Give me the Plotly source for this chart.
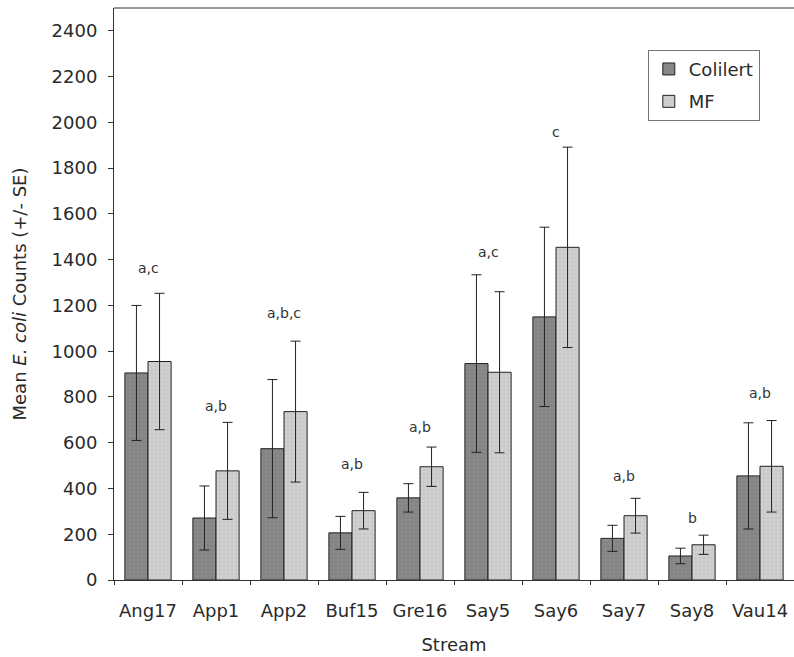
import plotly.graph_objects as go

streams = ["Ang17", "App1", "App2", "Buf15", "Gre16", "Say5", "Say6", "Say7", "Say8", "Vau14"]
colilert = [905, 271, 574, 206, 359, 946, 1150, 182, 105, 455]
colilert_se = [295, 140, 302, 72, 62, 388, 392, 57, 34, 232]
mf = [955, 477, 736, 303, 495, 908, 1454, 281, 154, 497]
mf_se = [298, 212, 308, 80, 86, 352, 438, 76, 42, 200]
letters = ["a,c", "a,b", "a,b,c", "a,b", "a,b", "a,c", "c", "a,b", "b", "a,b"]
letter_y = [1362, 762, 1165, 508, 670, 1432, 1958, 455, 272, 819]

FONT = "DejaVu Sans, sans-serif"

fig = go.Figure()
fig.add_trace(go.Bar(
    name="Colilert", x=streams, y=colilert, legendgroup="c",
    marker=dict(color="#8a8a8a", line=dict(color="#222", width=1),
                pattern=dict(shape="+", fgcolor="#6a6a6a", size=4, solidity=0.25)),
    error_y=dict(type="data", array=colilert_se, color="#222", thickness=1, width=5),
))
fig.add_trace(go.Bar(
    name="MF", x=streams, y=mf, legendgroup="m",
    marker=dict(color="#d2d2d2", line=dict(color="#222", width=1),
                pattern=dict(shape="+", fgcolor="#a8a8a8", size=4, solidity=0.25)),
    error_y=dict(type="data", array=mf_se, color="#222", thickness=1, width=5),
))

for s, t, yv in zip(streams, letters, letter_y):
    fig.add_annotation(x=s, y=yv, text=t, showarrow=False,
                       font=dict(family=FONT, size=14, color="#333"), yanchor="middle")

fig.update_layout(
    width=794, height=657,
    margin=dict(l=114, r=0, t=8, b=77),
    paper_bgcolor="white", plot_bgcolor="white",
    barmode="group", bargap=0.32, bargroupgap=0,
    font=dict(family=FONT, size=18, color="#2a2a2a"),
    showlegend=True,
    legend=dict(x=0.785, y=0.927, xanchor="left", yanchor="top",
                bordercolor="#777", borderwidth=1, bgcolor="white",
                font=dict(family=FONT, size=18, color="#2a2a2a"),
                itemwidth=30, traceorder="grouped", tracegroupgap=6),
    xaxis=dict(
        title=dict(text="Stream", font=dict(size=18), standoff=18),
        range=[-0.5, 9.5], showline=True, linecolor="#333", linewidth=1,
        ticks="outside", tickson="boundaries", ticklen=4, ticklabelstandoff=14,
        tickcolor="#333", showgrid=False, zeroline=False,
        tickfont=dict(size=18),
    ),
    yaxis=dict(
        title=dict(text="Mean <i>E. coli</i> Counts (+/- SE)", font=dict(size=18), standoff=20),
        range=[0, 2500], tickvals=list(range(0, 2401, 200)),
        showline=True, linecolor="#333", linewidth=1,
        ticks="outside", ticklen=5, tickcolor="#333", ticklabelstandoff=7,
        showgrid=False, zeroline=False, tickfont=dict(size=18),
    ),
)
fig.add_shape(type="line", xref="paper", yref="paper", x0=0, x1=1, y0=1, y1=1,
              line=dict(color="#333", width=1))

fig.write_html("out.html")
